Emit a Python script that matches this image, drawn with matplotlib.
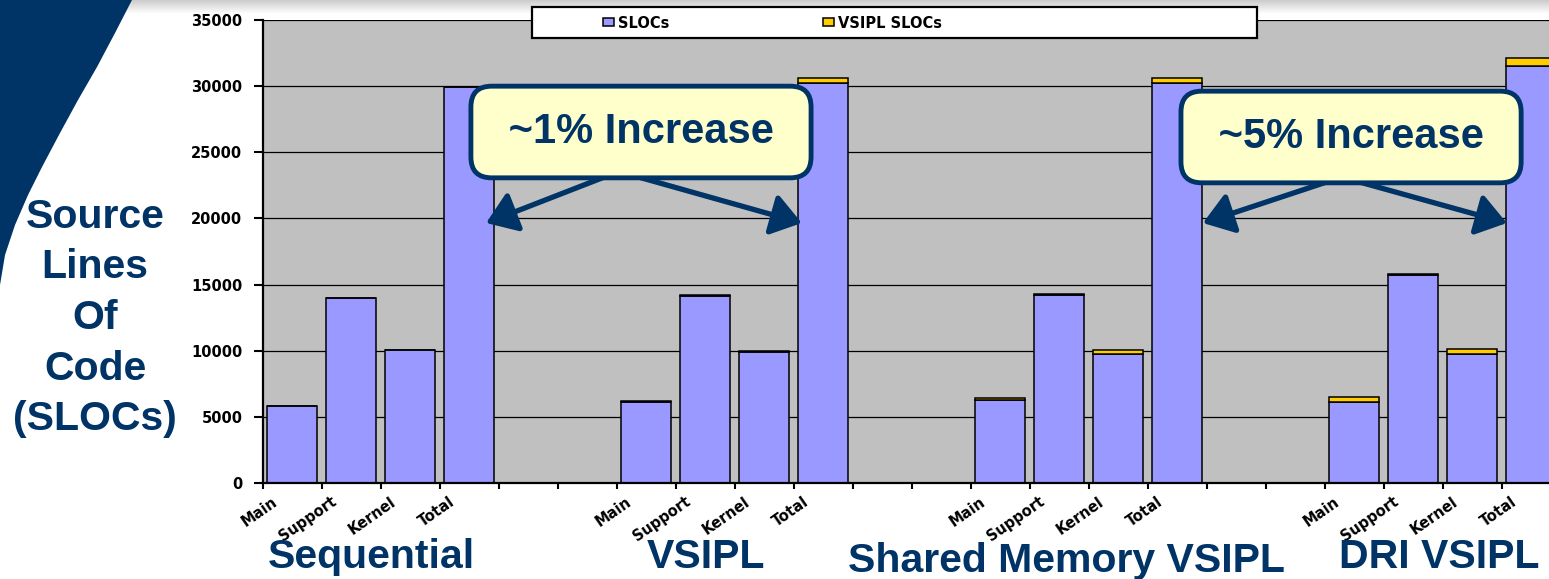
import matplotlib
matplotlib.use('Agg')
import matplotlib.pyplot as plt
from matplotlib.patches import Polygon, Rectangle
from matplotlib.transforms import ScaledTranslation
import numpy as np

plt.rcParams['font.family'] = ['Liberation Sans', 'DejaVu Sans']

# data
groups = ['Sequential', 'VSIPL', 'Shared Memory VSIPL', 'DRI VSIPL']
parts = ['Main', 'Support', 'Kernel', 'Total']

sloc_seq = [5850, 14000, 10050, 29900]
sloc_vsipl = [6150, 14150, 9920, 30200]
sloc_shm = [6300, 14200, 9750, 30200]
sloc_dri = [6100, 15700, 9750, 31500]

vsipl_seq = [0, 0, 0, 0]
vsipl_vsipl = [80, 80, 80, 400]
vsipl_shm = [100, 100, 330, 400]
vsipl_dri = [370, 120, 350, 600]

sloc = [sloc_seq, sloc_vsipl, sloc_shm, sloc_dri]
vsipl = [vsipl_seq, vsipl_vsipl, vsipl_shm, vsipl_dri]

navy = '#003366'
W, H = 1549, 579

fig = plt.figure(figsize=(W / 100, H / 100), dpi=100)

# slide background: grey fade at the top and the dark swoosh in the corner
bg = fig.add_axes([0, 0, 1, 1], zorder=-10)
bg.set_xlim(0, W)
bg.set_ylim(H, 0)
bg.axis('off')
grad = np.linspace(0.8, 1.0, 20)[:, None] * np.ones((1, 10))
bg.imshow(grad, cmap='gray', vmin=0, vmax=1, extent=(0, W, 14, 0), aspect='auto')
swoosh = [(0, 0), (132, 0), (115, 33), (97, 67), (78, 100), (60, 133), (42, 167),
          (28, 195), (15, 225), (5, 255), (0, 285)]
bg.add_patch(Polygon(swoosh, closed=True, fc=navy, ec='none'))

ax = fig.add_axes([262.5 / W, 96 / H, 1298 / W, 463 / H])
ax.set_facecolor('#C0C0C0')

handles = []
for g in range(len(groups)):
    x = g * 6 + np.arange(len(parts))
    b1 = ax.bar(x, sloc[g], width=0.85, color='#9999FF', edgecolor='black', lw=1.1, zorder=2)
    b2 = ax.bar(x, vsipl[g], bottom=sloc[g], width=0.85, color='#FFCC00',
                edgecolor='black', lw=1.1, zorder=2)
    if g == 0:
        handles = [b1, b2]

ax.set_xlim(-0.5, 21.5)
ax.set_ylim(0, 35000)
ax.set_yticks(range(0, 35001, 5000))
ax.yaxis.grid(True, color='black', lw=0.9)
ax.set_axisbelow(True)
for s in ['top', 'right']:
    ax.spines[s].set_visible(False)
for s in ['left', 'bottom']:
    ax.spines[s].set_linewidth(1.6)

ax.tick_params(axis='y', length=6.5, width=1.5, pad=8, labelsize=10.5)
for lbl in ax.get_yticklabels():
    lbl.set_fontweight('bold')
    lbl.set_family('DejaVu Sans')

centers = [g * 6 + i for g in range(len(groups)) for i in range(len(parts))]
ax.set_xticks(centers)
ax.set_xticklabels(parts * len(groups), rotation=35, ha='right', va='top',
                   rotation_mode='anchor', fontsize=10.5, fontweight='bold',
                   family='DejaVu Sans')
ax.set_xticks(np.arange(-0.5, 21.6, 1), minor=True)
ax.tick_params(axis='x', which='major', length=0, pad=8)
ax.tick_params(axis='x', which='minor', length=4, width=1.5)
offset = ScaledTranslation(-20 / 100, 0, fig.dpi_scale_trans)
for lbl in ax.get_xticklabels():
    lbl.set_transform(lbl.get_transform() + offset)

# arrows and callout boxes
arrows = [((5.34, 23207), (3.29, 19654)), ((5.81, 23207), (8.64, 19654)),
          ((17.64, 22905), (15.44, 19654)), ((17.97, 22905), (20.59, 19654))]
for start, end in arrows:
    ax.annotate('', xy=end, xytext=start, zorder=5,
                arrowprops=dict(arrowstyle='-|>,head_length=0.9,head_width=0.63',
                                mutation_scale=20, lw=3.8, color=navy,
                                shrinkA=0, shrinkB=0))

box = dict(boxstyle='round,pad=0.62,rounding_size=0.5', fc='#FFFFCC', ec=navy, lw=3.5)
ax.text(5.915, 26533, ' ~1% Increase ', ha='center', va='center', fontsize=30,
        fontweight='bold', color=navy, bbox=box, zorder=6)
ax.text(17.95, 26156, ' ~5% Increase ', ha='center', va='center', fontsize=30,
        fontweight='bold', color=navy, bbox=box, zorder=6)

# legend
fig.add_artist(Rectangle((532 / W, 1 - 38 / H), 725 / W, 31 / H, transform=fig.transFigure,
                         fc='white', ec='black', lw=1.6, zorder=4))
fig.legend(handles, ['SLOCs', 'VSIPL SLOCs'], loc='center left',
           bbox_to_anchor=(597 / W, 1 - 23 / H), ncol=2, frameon=False,
           prop=dict(weight='bold', size=10.5, family='DejaVu Sans'),
           handlelength=0.75, handleheight=0.5, handletextpad=0.3,
           columnspacing=10.5, borderaxespad=0, borderpad=0.4)

# titles
fig.text(95 / W, 1 - 318 / H, 'Source\nLines\nOf\nCode\n(SLOCs)', ha='center', va='center',
         multialignment='center', fontsize=29.5, fontweight='bold', color=navy, linespacing=1.42)
label_x = [371, 706, 1067, 1439]
label_y = [568, 568, 572, 568]
for name, lx, ly in zip(groups, label_x, label_y):
    fig.text(lx / W, 1 - ly / H, name, ha='center', va='baseline', fontsize=29.5,
             fontweight='bold', color=navy)

fig.savefig('out.png', dpi=100)
